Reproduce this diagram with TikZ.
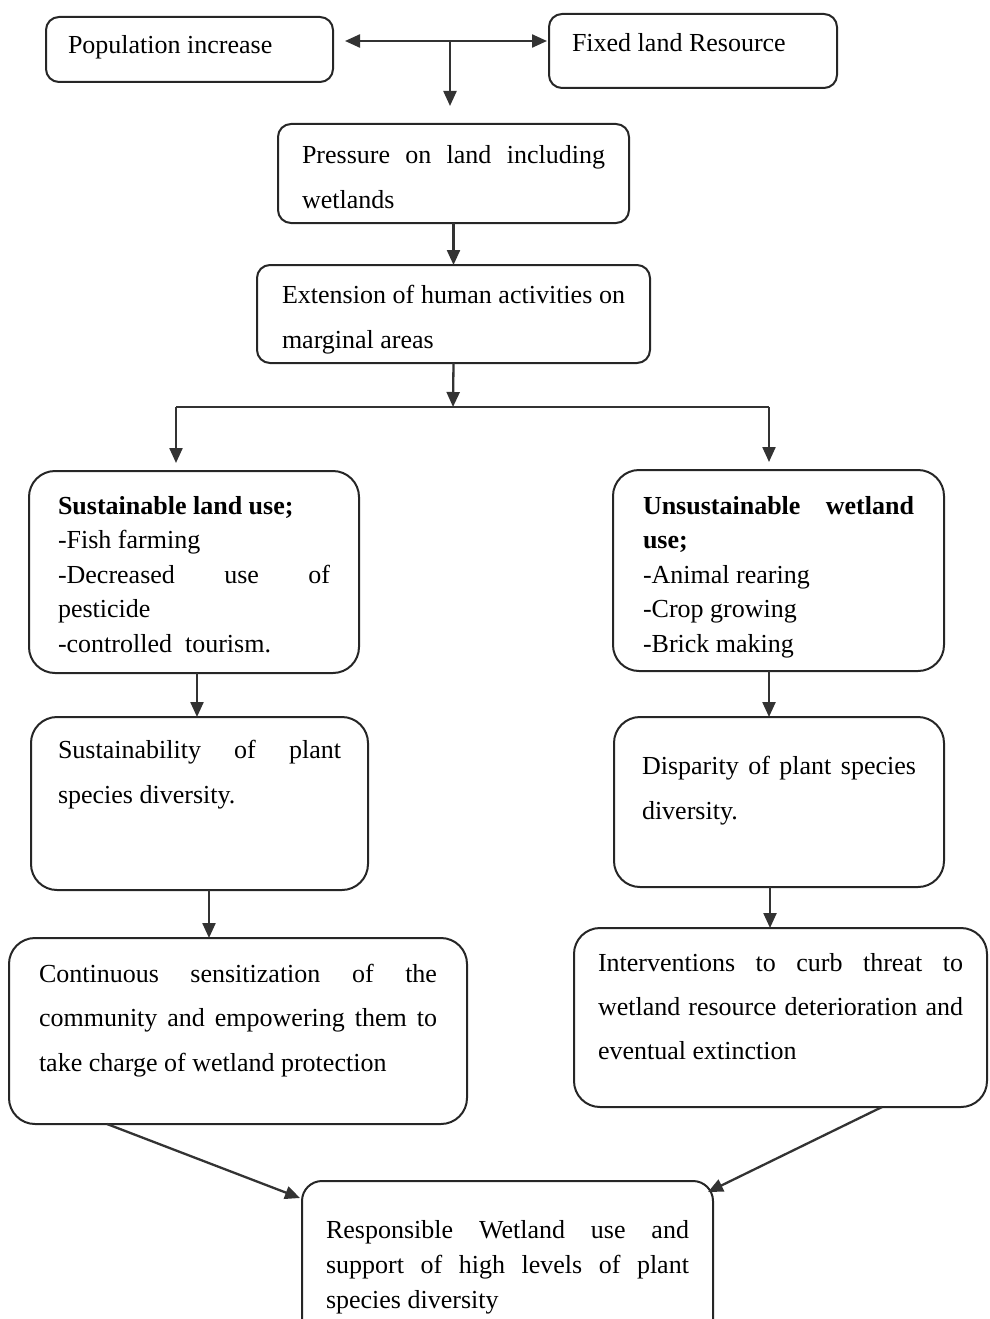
\documentclass[tikz,border=0pt]{standalone}
\usepackage{fontspec}
\setmainfont{Liberation Serif}
\usetikzlibrary{arrows.meta, calc}
\hyphenpenalty=10000
\exhyphenpenalty=10000

\tikzset{
  flowbox/.style={draw=black!85, line width=2pt, rounded corners=13pt, anchor=north west,
    inner ysep=0pt, outer sep=0pt, align=justify, font=\fontsize{26}{45}\selectfont},
  roomy/.style={rounded corners=26pt},
  dense/.style={font=\fontsize{26}{34.5}\selectfont},
  flowline/.style={draw=black!80, line width=2.3pt},
  flowarrow/.style={flowline, -{Triangle[length=15pt,width=13pt]}},
}

\begin{document}
\begin{tikzpicture}[x=1pt, y=-1pt]
    \useasboundingbox (0,0) rectangle (989,1319);
    \clip (0,0) rectangle (989,1319);

    \node[flowbox, inner xsep=22pt, text width=243pt, text height=37pt, text depth=28pt] (pop) at (46,17) {Population increase};
    \node[flowbox, inner xsep=23pt, text width=242pt, text height=38pt, text depth=36pt] (fixed) at (549,14) {Fixed land Resource};
    \node[flowbox, inner xsep=24pt, text width=303pt, text height=39pt, text depth=60pt] (press) at (278,124) {Pressure on land including wetlands};
    \node[flowbox, inner xsep=25pt, text width=343pt, text height=38pt, text depth=60pt] (ext) at (257,265) {Extension of human activities on\linebreak marginal areas};

    \node[flowbox, roomy, dense, inner xsep=29pt, text width=272pt, text height=43pt, text depth=159pt] (sust) at (29,471)
      {\textbf{Sustainable land use;}\par -Fish farming\par -Decreased use of pesticide\par -controlled\ \ tourism.};
    \node[flowbox, roomy, dense, inner xsep=30pt, text width=271pt, text height=44pt, text depth=157pt] (unsust) at (613,470)
      {\textbf{Unsustainable wetland use;}\par -Animal rearing\par -Crop growing\par -Brick making};

    \node[flowbox, roomy, inner xsep=27pt, text width=283pt, text height=41pt, text depth=132pt] (sbl) at (31,717) {Sustainability of plant species diversity.};
    \node[flowbox, roomy, inner xsep=28pt, text width=274pt, text height=57pt, text depth=113pt] (disp) at (614,717) {Disparity of plant species diversity.};

    \node[flowbox, roomy, font=\fontsize{26}{44.5}\selectfont, inner xsep=30pt, text width=398pt, text height=44pt, text depth=142pt] (cont) at (9,938)
      {Continuous sensitization of the community and empowering them to take charge of wetland protection};
    \node[flowbox, roomy, font=\fontsize{26}{44}\selectfont, inner xsep=24pt, text width=365pt, text height=43pt, text depth=136pt] (interv) at (574,928)
      {Interventions to curb threat to wetland resource deterioration and eventual extinction};

    \node[flowbox, rounded corners=20pt, font=\fontsize{26}{35}\selectfont, inner xsep=24pt, text width=363pt, text height=57pt, text depth=107pt] (resp) at (302,1181)
      {Responsible Wetland use and support of high levels of plant species diversity};

    \coordinate (fork) at (450,41);
    \coordinate (split) at (453,407);
    \coordinate (splitL) at (176,407);
    \coordinate (splitR) at (769,407);

    \draw[flowline, {Triangle[length=15pt,width=13pt]}-{Triangle[length=15pt,width=13pt]}, shorten <=12pt, shorten >=2pt] (pop.east |- fork) -- (fixed.west |- fork);
    \draw[flowarrow, shorten >=18pt] (fork) -- (fork |- press.north);
    \draw[flowarrow] (press.south) -- (press.south |- ext.north);
    \draw[flowarrow] (ext.south) -- (split);
    \draw[flowline] (splitL) -- (splitR);
    \draw[flowarrow, shorten >=8pt] (splitL) -- (splitL |- sust.north);
    \draw[flowarrow, shorten >=8pt] (splitR) -- (splitR |- unsust.north);

    \draw[flowarrow] ([xshift=3pt]sust.south) -- ([xshift=3pt]sust.south |- sbl.north);
    \draw[flowarrow] ([xshift=-9.5pt]unsust.south) -- ([xshift=-9.5pt]unsust.south |- disp.north);
    \draw[flowarrow] ([xshift=9.5pt]sbl.south) -- ([xshift=9.5pt]sbl.south |- cont.north);
    \draw[flowarrow] ([xshift=-9pt]disp.south) -- ([xshift=-9pt]disp.south |- interv.north);

    \draw[flowarrow] ([xshift=98pt]cont.south west) -- ([xshift=-2pt,yshift=-17pt]resp.north west);
    \draw[flowarrow] ([xshift=308pt]interv.south west) -- ([xshift=-5pt,yshift=-11pt]resp.north east);
\end{tikzpicture}
\end{document}
